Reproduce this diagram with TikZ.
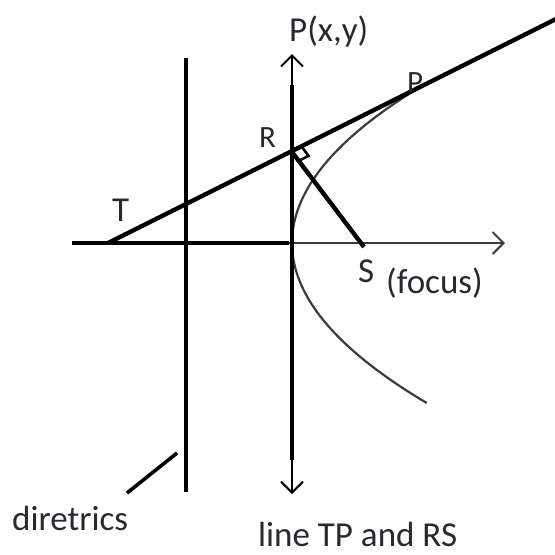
\documentclass[tikz,border=0pt]{standalone}
\usepackage{fontspec}
\setmainfont{Carlito}
\usetikzlibrary{arrows.meta,calc}
\definecolor{txt}{RGB}{40,40,48}
\definecolor{curve}{RGB}{60,60,60}
\tikzset{
  heavy/.style={line width=4.4pt, black},
  thinline/.style={line width=2.2pt, curve},
  tip/.style={-{Straight Barb[length=11pt,width=22pt,line width=2pt]}},
  lab/.style={inner sep=0pt, anchor=base west, text=txt, font=\fontsize{35}{40}\selectfont},
  smalllab/.style={lab, font=\fontsize{31}{36}\selectfont}
}
\begin{document}
\begin{tikzpicture}[x=1pt,y=-1pt]
\useasboundingbox (0,0) rectangle (555,555);
% key points
\coordinate (T) at (108,243);
\coordinate (R) at (292,152);
\coordinate (S) at (364,247);
\coordinate (Tend) at (558,18);
\coordinate (Xl) at (72,243);
\coordinate (Xm) at (289,243);
\coordinate (Xr) at (505,243);
\coordinate (Yt) at (292,85);
\coordinate (Ytip) at (292,54);
\coordinate (Yb) at (292,460);
\coordinate (Ybtip) at (292,494);
\coordinate (Dt) at (186,58);
\coordinate (Db) at (186,492);
\coordinate (Sl1) at (127,493);
\coordinate (Sl2) at (177,453);
% parabola
\draw[thinline] plot[domain=-160:162, samples=80, smooth] ({292+(\x/10)*(\x/10)/1.9},{243-\x});
% directrix
\draw[heavy] (Dt) -- (Db);
\draw[heavy, line width=3.6pt] (Sl1) -- (Sl2);
% axes
\draw[thinline, tip] (Xm) -- (Xr);
\draw[heavy] (Xl) -- (Xm);
\draw[heavy] (Yt) -- (Yb);
\draw[line width=2.2pt, black, tip] (Yt) -- (Ytip);
\draw[line width=2.2pt, black, tip] (Yb) -- (Ybtip);
% tangent and RS
\draw[heavy] (T) -- (Tend);
\draw[heavy] (R) -- (S);
% right angle mark
\draw[line width=2.6pt] ($(R)+(9.9,-4.9)$) -- ++(6.6,8.8) -- ($(R)+(6.6,8.8)$);
% labels
\node[lab] (lP) at (289,41) {P(x,y)};
\node[smalllab] (lP2) at (407,92) {P};
\node[smalllab] (lR) at (259,147) {R};
\node[lab] (lT) at (112,221) {T};
\node[lab] (lS) at (358,282) {S};
\node[lab] (lF) at (386,293) {(focus)};
\node[lab] (lD) at (12,530) {diretrics};
\node[lab] (lL) at (258,546) {line TP and RS};
\end{tikzpicture}
\end{document}
